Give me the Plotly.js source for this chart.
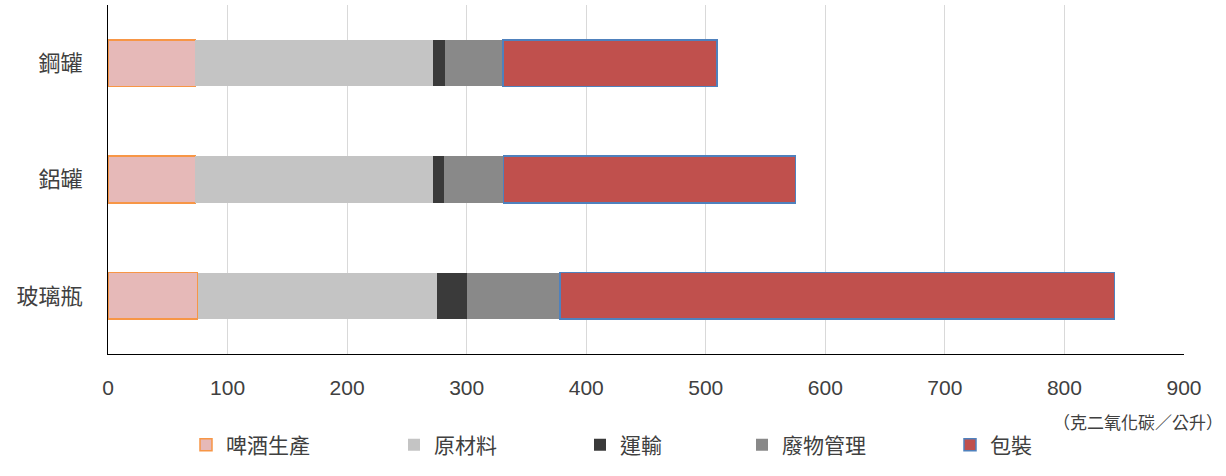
<!DOCTYPE html>
<html>
<head>
<meta charset="utf-8">
<script src="https://cdn.plot.ly/plotly-3.0.1.min.js"></script>
<style>html,body{margin:0;padding:0;background:#fff;}#chart{width:1226px;height:476px;}</style>
</head>
<body>
<div id="chart"></div>
<script>
// Categories (bottom to top)
const categories = ['玻璃瓶', '鋁罐', '鋼罐'];
// Series (values in g CO2 per litre), same order as categories
const seriesNames = ['啤酒生產', '原材料', '運輸', '廢物管理', '包裝'];
const beerProduction = [75, 73, 73];
const rawMaterials   = [200, 199, 199];
const transport      = [25, 9, 10];
const wasteManagement = [78, 50, 48.5];
const packaging      = [464, 244, 179];
const xTicks = [0, 100, 200, 300, 400, 500, 600, 700, 800, 900];
const unitLabel = '（克二氧化碳／公升）';

const seriesValues = [beerProduction, rawMaterials, transport, wasteManagement, packaging];
const fills = ['#E6B9B8', '#C4C4C4', '#3A3A3A', '#898989', '#C0504D'];
const lines = [
  {color: '#F79646', width: 1.5},
  {color: 'rgba(0,0,0,0)', width: 0},
  {color: 'rgba(0,0,0,0)', width: 0},
  {color: 'rgba(0,0,0,0)', width: 0},
  {color: '#4F81BD', width: 1.5}
];
const legendIds = ['legend', 'legend2', 'legend3', 'legend4', 'legend5'];
// legend positions (container px)
const legendX = [186, 394, 580, 742, 950];

const FONT = 'Liberation Sans, Noto Sans CJK TC, sans-serif';

const traces = seriesNames.map((name, i) => ({
  type: 'bar',
  orientation: 'h',
  name: name,
  y: categories,
  x: seriesValues[i],
  marker: {color: fills[i], line: lines[i]},
  legend: legendIds[i],
  hoverinfo: 'x+name'
}));

const layout = {
  width: 1226,
  height: 476,
  margin: {l: 108, r: 42, t: 5, b: 122},
  paper_bgcolor: '#fff',
  plot_bgcolor: '#fff',
  barmode: 'stack',
  bargap: 0.6,
  font: {family: FONT, color: '#404040', size: 21},
  xaxis: {
    range: [0, 900],
    tickvals: xTicks,
    ticktext: xTicks.map(String),
    showgrid: true,
    gridcolor: '#D9D9D9',
    gridwidth: 1,
    zeroline: false,
    showline: true,
    linecolor: '#000',
    linewidth: 1.2,
    ticks: '',
    ticklabelstandoff: 15,
    tickfont: {family: FONT, size: 21, color: '#404040'},
    fixedrange: true
  },
  yaxis: {
    type: 'category',
    categoryorder: 'array',
    categoryarray: categories,
    showgrid: false,
    zeroline: false,
    showline: true,
    linecolor: '#000',
    linewidth: 1.2,
    ticks: '',
    ticklabelstandoff: 20,
    tickfont: {family: FONT, size: 22, color: '#404040'},
    fixedrange: true
  },
  annotations: [{
    text: unitLabel,
    xref: 'paper', yref: 'paper',
    x: 0.957, y: -0.2,
    xanchor: 'center', yanchor: 'middle',
    showarrow: false,
    font: {family: FONT, size: 17, color: '#404040'}
  }],
  showlegend: true
};

legendIds.forEach((id, i) => {
  layout[id] = {
    orientation: 'h',
    xref: 'container', yref: 'container',
    x: legendX[i] / 1226, xanchor: 'left',
    y: 1 - 445 / 476, yanchor: 'middle',
    bgcolor: 'rgba(0,0,0,0)',
    borderwidth: 0,
    font: {family: FONT, size: 21, color: '#404040'},
    itemwidth: 30
  };
});

Plotly.newPlot('chart', traces, layout, {staticPlot: true, displayModeBar: false});
</script>
</body>
</html>
